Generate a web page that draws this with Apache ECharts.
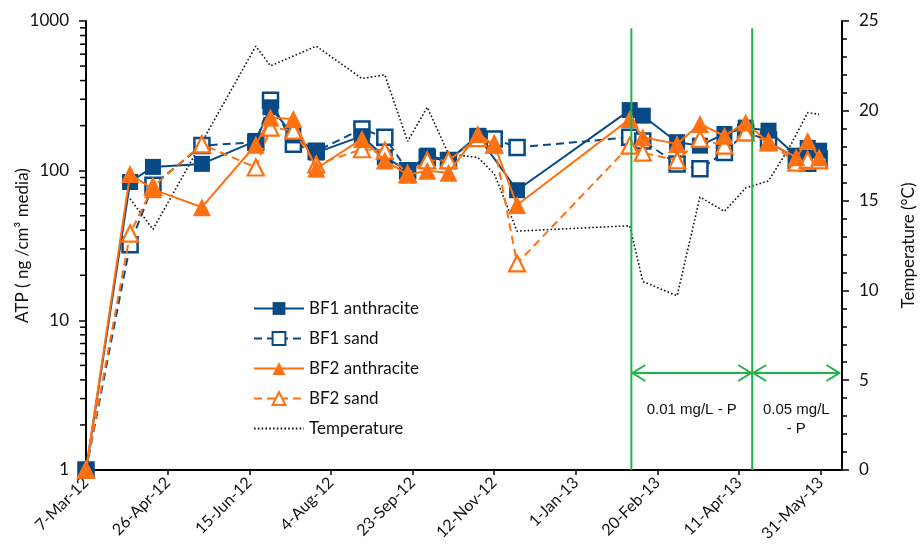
<!DOCTYPE html>
<html>
<head>
<meta charset="utf-8">
<script src="https://cdn.jsdelivr.net/npm/echarts@6/dist/echarts.min.js"></script>
<style>
  html, body { margin: 0; padding: 0; background: #ffffff; }
  #chart { width: 920px; height: 558px; }
</style>
</head>
<body>
<div id="chart"></div>
<script>
// Sampling dates for the ATP measurements
const sampleDates = [
  '2012-03-07', '2012-04-03', '2012-04-17', '2012-05-17', '2012-06-19', '2012-06-28',
  '2012-07-12', '2012-07-26', '2012-08-23', '2012-09-06', '2012-09-20', '2012-10-02',
  '2012-10-15', '2012-11-02', '2012-11-12', '2012-11-26', '2013-02-03', '2013-02-11',
  '2013-03-04', '2013-03-18', '2013-04-02', '2013-04-15', '2013-04-29', '2013-05-16',
  '2013-05-23', '2013-05-30'
];

// ATP (ng/cm3 media) per filter and media type; null = no sample
const bf1Anthracite = [1, 84, 106, 111, 158, 265, 172, 132, 170, 123, 100, 126, 117, 171, null, 74, 254, 233, 155, 147, 176, 194, 185, 126, 142, 136];
const bf1Sand       = [1, 32, 80, 147, 155, 295, 150, 135, 190, 167, 100, 122, 117, 168, 163, 143, 167, 158, 111, 103, 132, 180, 160, 117, 112, 120];
const bf2Anthracite = [1, 95, 75, 57, 149, 227, 221, 103, 163, 117, 94, 100, 97, 176, 149, 59, 221, 167, 151, 205, 171, 210, 154, 123, 158, 123];
const bf2Sand       = [1, 38, 78, 150, 105, 194, 185, 110, 139, 136, 95, 117, 117, 165, 150, 24, 147, 132, 117, 163, 147, 180, 155, 113, 118, 117];

// Water temperature (°C)
const tempDates = [
  '2012-04-03', '2012-04-17', '2012-06-19', '2012-06-28', '2012-07-26', '2012-08-23',
  '2012-09-06', '2012-09-20', '2012-10-02', '2012-10-15', '2012-11-02', '2012-11-12',
  '2012-11-26', '2013-02-03', '2013-02-11', '2013-03-04', '2013-03-18', '2013-04-02',
  '2013-04-15', '2013-04-29', '2013-05-12', '2013-05-23', '2013-05-30'
];
const temperature = [15.1, 13.4, 23.6, 22.5, 23.6, 21.8, 22.0, 18.3, 20.2, 17.6, 17.4, 16.5,
  13.3, 13.6, 10.5, 9.7, 15.2, 14.4, 15.7, 16.1, 18.0, 19.9, 19.8];

// Phosphorus dosing phases: boundaries and labels
const phaseDates = ['2013-02-04', '2013-04-19', '2013-06-12'];
const phaseLabels = ['0.01 mg/L - P', '0.05 mg/L\n- P'];
const phaseArrowTemp = 5.4;
const phaseLineTopTemp = 24.6;

// Axis settings
const axisStartDate = '2012-03-07';
const axisEndDate = '2013-06-13';
const dayTickInterval = 50;
const atpMinorTicks = [2, 3, 4, 5, 6, 7, 8, 9, 20, 30, 40, 50, 60, 70, 80, 90, 200, 300, 400, 500, 600, 700, 800, 900];

const MONTHS = ['Jan', 'Feb', 'Mar', 'Apr', 'May', 'Jun', 'Jul', 'Aug', 'Sep', 'Oct', 'Nov', 'Dec'];
function utc(s) { const p = s.split('-').map(Number); return Date.UTC(p[0], p[1] - 1, p[2]); }
const DAY0 = utc(axisStartDate);
function dayOf(s) { return Math.round((utc(s) - DAY0) / 86400000); }
function dayLabel(v) {
  const dt = new Date(DAY0 + v * 86400000);
  return dt.getUTCDate() + '-' + MONTHS[dt.getUTCMonth()] + '-' + String(dt.getUTCFullYear()).slice(2);
}
function pairs(dates, vals) {
  return dates.map((d, i) => [dayOf(d), vals[i]]).filter(p => p[1] != null);
}

const BLUE = '#074a86';
const ORANGE = '#ff7010';
const GREEN = '#22b24c';
const FONT = 'Lato';

const chart = echarts.init(document.getElementById('chart'), null, { renderer: 'canvas' });

chart.setOption({
  animation: false,
  backgroundColor: '#ffffff',
  grid: { left: 86, right: 78, top: 21, bottom: 88, containLabel: false, outerBoundsMode: 'none' },
  legend: {
    orient: 'vertical',
    left: 248,
    top: 295,
    itemWidth: 50,
    itemHeight: 16,
    itemGap: 13,
    textStyle: { fontFamily: FONT, fontSize: 17, color: '#111' },
    data: ['BF1 anthracite', 'BF1 sand', 'BF2 anthracite', 'BF2 sand', 'Temperature']
  },
  xAxis: {
    type: 'value',
    min: 0,
    max: dayOf(axisEndDate),
    interval: dayTickInterval,
    axisLine: { show: true, onZero: false, lineStyle: { color: '#000', width: 2 } },
    axisTick: { show: true, length: 5, lineStyle: { color: '#000', width: 1.5 } },
    splitLine: { show: false },
    axisLabel: {
      rotate: 45,
      margin: 10,
      fontFamily: FONT,
      fontSize: 16,
      color: '#111',
      showMaxLabel: false,
      formatter: v => dayLabel(v)
    }
  },
  yAxis: [
    {
      type: 'log',
      logBase: 10,
      min: 1,
      max: 1000,
      position: 'left',
      axisLine: { show: true, lineStyle: { color: '#000', width: 2 } },
      axisTick: { show: true, length: 7, lineStyle: { color: '#000', width: 1.5 } },
      splitLine: { show: false },
      axisLabel: { fontFamily: FONT, fontSize: 17, color: '#111', margin: 17, formatter: v => String(Math.round(v)) },
      name: 'ATP ( ng /cm³ media)',
      nameLocation: 'middle',
      nameGap: 55,
      nameMoveOverlap: false,
      nameTextStyle: { fontFamily: FONT, fontSize: 17, color: '#111' }
    },
    {
      type: 'value',
      min: 0,
      max: 25,
      interval: 5,
      position: 'right',
      axisLine: { show: true, lineStyle: { color: '#000', width: 2 } },
      axisTick: { show: true, length: 7, lineStyle: { color: '#000', width: 1.5 } },
      minorTick: { show: true, splitNumber: 5, length: 5, lineStyle: { color: '#000', width: 1.5 } },
      splitLine: { show: false },
      axisLabel: { fontFamily: FONT, fontSize: 17, color: '#111', margin: 17 },
      name: 'Temperature (°C)',
      nameLocation: 'middle',
      nameGap: 58,
      nameMoveOverlap: false,
      nameTextStyle: { fontFamily: FONT, fontSize: 17, color: '#111' }
    }
  ],
  series: [
    {
      name: 'Temperature',
      type: 'line',
      yAxisIndex: 1,
      data: pairs(tempDates, temperature),
      symbol: 'none',
      lineStyle: { color: '#111', width: 1.6, type: [1.6, 2.2] },
      itemStyle: { color: 'rgba(0,0,0,0)' },
      z: 2
    },
    {
      name: 'BF1 sand',
      type: 'line',
      data: pairs(sampleDates, bf1Sand),
      symbol: 'rect',
      symbolSize: 15,
      lineStyle: { color: BLUE, width: 2, type: [8, 5] },
      itemStyle: { color: '#ffffff', borderColor: BLUE, borderWidth: 2.5 },
      z: 3
    },
    {
      name: 'BF1 anthracite',
      type: 'line',
      data: pairs(sampleDates, bf1Anthracite),
      symbol: 'rect',
      symbolSize: 16,
      lineStyle: { color: BLUE, width: 2 },
      itemStyle: { color: BLUE },
      z: 4
    },
    {
      name: 'BF2 sand',
      type: 'line',
      data: pairs(sampleDates, bf2Sand),
      symbol: 'triangle',
      symbolSize: 16,
      lineStyle: { color: ORANGE, width: 2, type: [8, 5] },
      itemStyle: { color: '#ffffff', borderColor: ORANGE, borderWidth: 2.2 },
      z: 5
    },
    {
      name: 'BF2 anthracite',
      type: 'line',
      data: pairs(sampleDates, bf2Anthracite),
      symbol: 'triangle',
      symbolSize: 18,
      lineStyle: { color: ORANGE, width: 2 },
      itemStyle: { color: ORANGE },
      z: 6
    },
    {
      // minor ticks of the logarithmic ATP axis (2..9 per decade)
      type: 'custom',
      xAxisIndex: 0,
      yAxisIndex: 0,
      silent: true,
      clip: false,
      data: atpMinorTicks.map(v => [0, v]),
      renderItem: (params, api) => {
        const pt = api.coord([0, api.value(1)]);
        return {
          type: 'line',
          shape: { x1: pt[0] - 6, y1: pt[1], x2: pt[0], y2: pt[1] },
          style: { stroke: '#000', lineWidth: 1.5 }
        };
      },
      z: 7
    },
    {
      // dosing phases: boundary lines, double arrows and labels
      type: 'custom',
      xAxisIndex: 0,
      yAxisIndex: 1,
      silent: true,
      clip: false,
      data: phaseDates.slice(0, -1).map((d, i) => [dayOf(d), dayOf(phaseDates[i + 1]), i]),
      renderItem: (params, api) => {
        const start = api.coord([api.value(0), 0]);
        const end = api.coord([api.value(1), 0]);
        const top = api.coord([api.value(0), phaseLineTopTemp]);
        const ay = api.coord([api.value(0), phaseArrowTemp])[1];
        const a = start[0] + 1, b = end[0] - 1;
        const stroke = { stroke: GREEN, lineWidth: 2, fill: null };
        return {
          type: 'group',
          children: [
            { type: 'line', shape: { x1: start[0], y1: start[1], x2: start[0], y2: top[1] }, style: stroke },
            { type: 'line', shape: { x1: a, y1: ay, x2: b, y2: ay }, style: stroke },
            { type: 'polyline', shape: { points: [[a + 13, ay - 8], [a, ay], [a + 13, ay + 8]] }, style: stroke },
            { type: 'polyline', shape: { points: [[b - 13, ay - 8], [b, ay], [b - 13, ay + 8]] }, style: stroke },
            {
              type: 'text',
              x: (start[0] + end[0]) / 2,
              y: ay + 27,
              style: {
                text: phaseLabels[api.value(2)],
                fontFamily: 'Liberation Sans',
                fontSize: 15,
                lineHeight: 19,
                fill: '#111',
                align: 'center',
                verticalAlign: 'top'
              }
            }
          ]
        };
      },
      z: 8
    }
  ]
});
</script>
</body>
</html>
